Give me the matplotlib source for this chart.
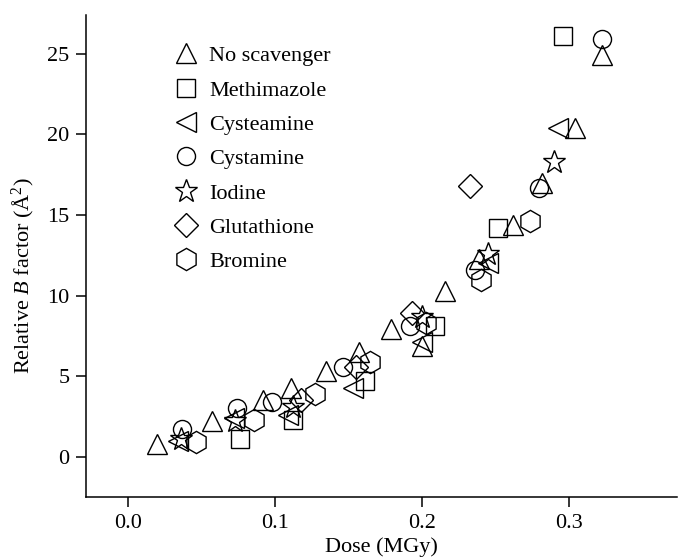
import matplotlib
matplotlib.use("Agg")
import matplotlib.pyplot as plt

plt.rcParams["font.family"] = ["Liberation Serif", "DejaVu Serif"]
plt.rcParams["mathtext.fontset"] = "custom"
plt.rcParams["mathtext.rm"] = "Liberation Serif"
plt.rcParams["mathtext.it"] = "Liberation Serif:italic"

# values
no_scav_x = [0.020, 0.057, 0.092, 0.111, 0.135, 0.157, 0.179, 0.200, 0.216, 0.239, 0.262, 0.282, 0.304, 0.323]
no_scav_y = [0.8, 2.2, 3.5, 4.3, 5.3, 6.5, 7.9, 6.9, 10.3, 12.3, 14.4, 17.0, 20.4, 24.9]

methimazole_x = [0.076, 0.112, 0.161, 0.209, 0.252, 0.296]
methimazole_y = [1.1, 2.3, 4.7, 8.1, 14.2, 26.1]

cysteamine_x = [0.034, 0.072, 0.109, 0.153, 0.200, 0.245, 0.293]
cysteamine_y = [1.0, 2.4, 2.6, 4.3, 7.1, 12.0, 20.4]

cystamine_x = [0.037, 0.074, 0.098, 0.146, 0.192, 0.236, 0.280, 0.323]
cystamine_y = [1.7, 3.0, 3.4, 5.6, 8.1, 11.6, 16.7, 25.9]

iodine_x = [0.036, 0.073, 0.112, 0.200, 0.245, 0.290]
iodine_y = [1.1, 2.2, 3.1, 8.7, 12.6, 18.3]

glutathione_x = [0.118, 0.155, 0.193, 0.233]
glutathione_y = [3.5, 5.6, 8.9, 16.8]

bromine_x = [0.046, 0.086, 0.127, 0.165, 0.203, 0.240, 0.274]
bromine_y = [0.9, 2.3, 3.9, 5.9, 8.3, 11.0, 14.6]

series = [
    ("No scavenger", no_scav_x, no_scav_y, "^", 15),
    ("Methimazole", methimazole_x, methimazole_y, "s", 13),
    ("Cysteamine", cysteamine_x, cysteamine_y, "<", 15),
    ("Cystamine", cystamine_x, cystamine_y, "o", 13),
    ("Iodine", iodine_x, iodine_y, "*", 17),
    ("Glutathione", glutathione_x, glutathione_y, "D", 12),
    ("Bromine", bromine_x, bromine_y, "h", 16),
]

fig = plt.figure(figsize=(6.78, 5.58), dpi=100)
ax = fig.add_axes([0.127, 0.109, 0.872, 0.864])

for name, xs, ys, mk, ms in series:
    ax.plot(xs, ys, linestyle="none", marker=mk, markersize=ms,
            markerfacecolor="none", markeredgecolor="black",
            markeredgewidth=1.0, label=name)

ax.set_xlim(-0.0286, 0.374)
ax.set_ylim(-2.5, 27.4)
ax.set_xticks([0.0, 0.1, 0.2, 0.3])
ax.set_xticklabels(["0.0", "0.1", "0.2", "0.3"])
ax.set_yticks([0, 5, 10, 15, 20, 25])

for s in ["top", "right"]:
    ax.spines[s].set_visible(False)
for s in ["left", "bottom"]:
    ax.spines[s].set_linewidth(1.1)
ax.tick_params(direction="out", length=7, width=1.1, labelsize=16, pad=5)

ax.set_xlabel("Dose (MGy)", fontsize=16, labelpad=3)
ax.set_ylabel(r"Relative $\mathit{B}$ factor ($\mathrm{\AA}^2$)", fontsize=16)
ax.yaxis.set_label_coords(-0.083, 0.46)

ax.legend(loc="upper left", bbox_to_anchor=(0.135, 0.955), frameon=False,
          fontsize=16, handletextpad=0.55, labelspacing=0.62,
          handlelength=1.0, borderaxespad=0)

fig.savefig("out.png", dpi=100)
